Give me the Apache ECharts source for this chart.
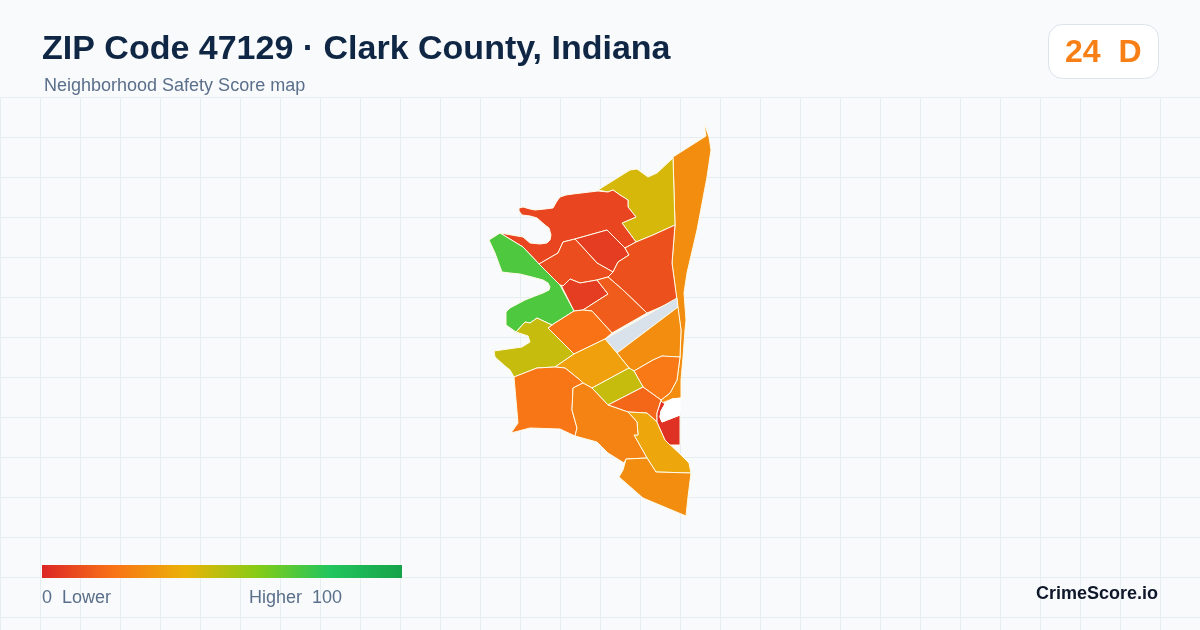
<!DOCTYPE html>
<html>
<head>
<meta charset="utf-8">
<title>ZIP Code 47129</title>
<script src="https://cdn.jsdelivr.net/npm/echarts@6/dist/echarts.min.js"></script>
<style>
html,body{margin:0;padding:0;background:#f8fafc;}
#chart_panel{width:1200px;height:630px;}
</style>
</head>
<body>
<div id="chart_panel"></div>
<script>
// neighborhoods (score guessed from the fill colour)
var hoodNames = ['a','b','c','d','e','f','g','h','i','j','k','l','m','n','o','p','q','r','s','t','u','v','hole'];
var hoodScores = [28,44,8,6,11,10,6,14,71,20,47,null,28,22,34,47,17,36,21,25,28,3,null];

// outlines in map units, y running down
var outlines = [
	[[705,125],[706.5,130],[709,137],[711,150],[707,177],[697,230],[687,273],[684,293],[686,320],[685,330],[683,357],[681,380],[681,398],[672,399],[662,403],[661,400],[670,393],[677,380],[680,357],[681,330],[678,310],[677,302],[672,263],[675,225],[673,157],[706,136],[705,130]],
	[[598,190],[630,170],[637,169],[648,177],[657,173],[673,158],[675,225],[653,235],[636,242],[622,223],[636,217],[628,207],[628,200],[620,195],[613,190],[608,192]],
	[[500,233],[523,237],[530,243],[540,244],[547,243],[550,240],[551,235],[549,228],[545,225],[537,218],[530,216],[522,215],[519,211],[519,208],[523,207],[530,209],[535,210],[545,209],[553,208],[557,201],[560,197],[566,195],[573,194],[598,191],[608,192],[613,190],[620,195],[628,200],[628,207],[636,217],[622,223],[636,242],[625,248],[607,230],[575,239],[563,242],[558,253],[539,264],[523,247]],
	[[575,239],[607,230],[625,248],[629,255],[618,262],[613,272],[597,263],[587,252]],
	[[625,248],[636,242],[653,235],[675,225],[672,263],[677,300],[647,313],[623,290],[608,277],[613,272],[618,262],[629,255]],
	[[539,264],[558,253],[563,242],[575,239],[587,252],[597,263],[613,272],[608,277],[597,280],[580,283],[570,279],[563,286],[560,285]],
	[[563,286],[570,279],[580,283],[597,280],[608,294],[583,310],[574,311],[561,285]],
	[[597,280],[608,277],[623,290],[647,313],[612,333],[592,311],[583,310],[608,294]],
	[[489,240],[500,233],[523,247],[539,264],[560,285],[561,285],[574,311],[555,323],[552,325],[537,318],[530,323],[525,322],[516,332],[506,325],[506,312],[510,308],[525,300],[535,296],[543,293],[549,290],[550,287],[548,283],[543,280],[532,277],[520,274],[510,273],[502,272],[495,253]],
	[[574,311],[583,310],[592,311],[612,333],[605,339],[574,354],[548,328],[555,323]],
	[[516,332],[525,322],[530,323],[537,318],[552,325],[548,328],[574,354],[555,367],[537,368],[514,377],[510,370],[505,366],[495,357],[494,351],[522,347],[530,342],[528,336]],
	[[605,339],[677,298],[678,307],[617,353]],
	[[678,307],[681,330],[680,357],[670,357],[662,356],[653,360],[634,371],[629,368],[617,353]],
	[[634,371],[653,360],[662,356],[680,357],[677,380],[670,393],[661,400],[643,387]],
	[[605,339],[617,353],[629,368],[592,388],[583,383],[580,380],[565,368],[555,367],[574,354]],
	[[629,368],[634,371],[643,387],[608,405],[592,388]],
	[[643,387],[661,400],[657,413],[657,422],[647,413],[628,412],[608,405]],
	[[628,412],[647,413],[657,422],[665,440],[680,454],[689,463],[691,473],[656,472],[647,458],[634,435],[638,435],[637,422]],
	[[514,377],[537,368],[555,367],[565,368],[580,380],[583,383],[573,388],[572,410],[577,428],[575,436],[560,429],[530,428],[511,433],[518,423],[516,400]],
	[[583,383],[592,388],[608,405],[628,412],[637,422],[638,435],[634,435],[647,458],[626,459],[624,463],[608,453],[597,442],[575,436],[577,428],[572,410],[573,388]],
	[[626,459],[647,458],[656,472],[691,473],[688,497],[686,516],[643,498],[619,477],[623,470]],
	[[661,401],[665,404],[661,411],[660,417],[662,422],[680,415],[680,445],[670,445],[665,440],[657,422],[657,413]],
	[[665,404],[672,399],[681,398],[680,415],[662,422],[660,417],[661,411]]
];

var scaleColors = ['#dc2626','#f97316','#eab308','#84cc16','#22c55e','#16a34a'];

var titleText = 'ZIP Code 47129 \u00b7 Clark County, Indiana';
var subText = 'Neighborhood Safety Score map';
var scoreText = '24  D';

function buildGeo(){
	var features = [];
	for(var i=0; i<hoodNames.length; i++){
		var ring = [];
		for(var j=0; j<outlines[i].length; j++){
			ring.push([outlines[i][j][0], -outlines[i][j][1]]);
		}
		ring.push(ring[0]);
		features.push({
			type:'Feature',
			properties:{name:hoodNames[i]},
			geometry:{type:'Polygon',coordinates:[ring]}
		});
	}
	return {type:'FeatureCollection',features:features};
}

function getHoodData(){
	var data = [];
	for(var i=0; i<hoodNames.length; i++){
		var item = {name:hoodNames[i], value:hoodScores[i]};
		if(hoodNames[i] == 'hole'){
			item.itemStyle = {areaColor:'#ffffff',borderColor:'#ffffff'};
		}
		data.push(item);
	}
	return data;
}

// the visualMap bar has rounded corners, the reference bar is square
function getScaleStops(){
	var stops = [];
	for(var i=0; i<scaleColors.length; i++){
		stops.push({offset:i/(scaleColors.length-1), color:scaleColors[i]});
	}
	return stops;
}

echarts.registerMap('zip47129', buildGeo());
var myChart = echarts.init(document.getElementById('chart_panel'));

var font = '"Liberation Sans", Arial, sans-serif';
myChart.setOption({
	animation:false,
	backgroundColor:'#f8fafc',
	title:[
		{text:titleText,left:42,top:33,padding:0,textStyle:{fontFamily:font,fontSize:34,fontWeight:'bold',color:'#0f2744'}},
		{text:subText,left:44,top:77,padding:0,textStyle:{fontFamily:font,fontSize:18,fontWeight:'normal',color:'#5a6f8a'}},
		{text:scoreText,left:1065,top:37,padding:0,textStyle:{fontFamily:font,fontSize:32,fontWeight:'bold',color:'#f77f15'}},
		{text:'0  Lower',left:42,top:589,padding:0,textStyle:{fontFamily:font,fontSize:18,fontWeight:'normal',color:'#5a6f8a'}},
		{text:'Higher  100',left:249,top:589,padding:0,textStyle:{fontFamily:font,fontSize:18,fontWeight:'normal',color:'#5a6f8a'}},
		{text:'CrimeScore.io',right:42,top:585,padding:0,textStyle:{fontFamily:font,fontSize:18,fontWeight:'bold',color:'#0f172a'}}
	],
	grid:{left:0,top:97,width:1200,height:533},
	xAxis:{type:'value',min:0,max:1200,interval:40,axisLine:{show:false},axisTick:{show:false},axisLabel:{show:false},splitLine:{lineStyle:{color:'#e6eef2',width:1}}},
	yAxis:{type:'value',inverse:true,min:0,max:533,interval:40,axisLine:{show:false},axisTick:{show:false},axisLabel:{show:false},splitLine:{lineStyle:{color:'#e6eef2',width:1}}},
	visualMap:{
		type:'continuous',
		show:false,
		min:0,
		max:100,
		seriesIndex:0,
		inRange:{color:scaleColors}
	},
	series:[{
		type:'map',
		map:'zip47129',
		left:489,
		top:125,
		width:222,
		height:391,
		aspectScale:1,
		roam:false,
		silent:true,
		label:{show:false},
		itemStyle:{areaColor:'#d9e2ea',borderColor:'#fffbe8',borderWidth:1},
		data:getHoodData()
	}],
	graphic:[
		{type:'rect',z:-1,shape:{x:1048.5,y:24.5,width:110,height:54,r:14},style:{fill:'#ffffff',stroke:'#dde3ec',lineWidth:1}},
		{type:'rect',z:100,shape:{x:42,y:565,width:360,height:13},style:{fill:new echarts.graphic.LinearGradient(0,0,1,0,getScaleStops())}}
	]
});
window.onresize = myChart.resize;
</script>
</body>
</html>
